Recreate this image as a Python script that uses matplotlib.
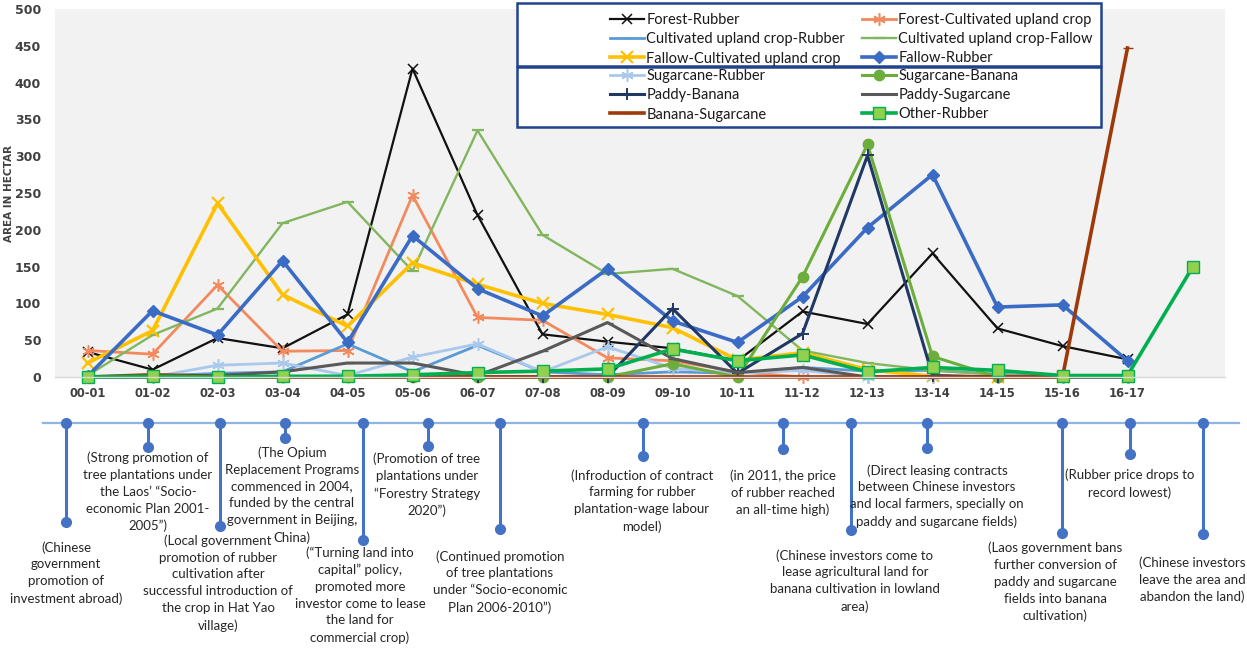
import numpy as np
import matplotlib
matplotlib.use('Agg')
import matplotlib.pyplot as plt
from matplotlib.patches import Rectangle

nan = np.nan

# ---------------- data ----------------
periods = ['00-01', '01-02', '02-03', '03-04', '04-05', '05-06', '06-07', '07-08', '08-09',
           '09-10', '10-11', '11-12', '12-13', '13-14', '14-15', '15-16', '16-17', '']

forest_rubber = [34, 10, 53, 39, 85, 419, 220, 58, 48, 39, 22, 89, 72, 168, 66, 42, 24, nan]
forest_cultivated = [36, 31, 125, 35, 36, 247, 81, 77, 26, 22, 7, 0, 0, 0, 0, 0, 0, nan]
cultivated_rubber = [0, 1, 5, 7, 45, 7, 43, 7, 3, 7, 5, 13, 8, 9, 4, 0, 0, nan]
cultivated_fallow = [2, 57, 93, 209, 238, 144, 335, 193, 140, 147, 110, 36, 19, 9, 3, 0, 0, nan]
fallow_cultivated = [19, 63, 236, 112, 69, 155, 126, 100, 85, 67, 23, 33, 10, 1, 0, 0, 0, nan]
fallow_rubber = [1, 90, 57, 158, 47, 192, 120, 83, 147, 76, 47, 109, 203, 275, 95, 98, 22, nan]
sugarcane_rubber = [0, 0, 16, 19, 2, 27, 45, 7, 41, 12, 5, 9, 0, 0, 0, 0, 0, nan]
sugarcane_banana = [0, 0, 0, 0, 0, 0, 0, 0, 0, 18, 0, 136, 316, 28, 0, 0, 0, nan]
paddy_banana = [0, 0, 0, 0, 0, 0, 0, 0, 0, 93, 5, 59, 301, 2, 0, 0, 0, nan]
paddy_sugarcane = [0, 0, 2, 7, 19, 19, 2, 35, 74, 25, 6, 13, 0, 0, 0, 0, 0, nan]
banana_sugarcane = [0, 3, 1, 0, 0, 0, 0, 0, 0, 0, 0, 0, 0, 0, 0, 0, 447, nan]
other_rubber = [0, 1, 0, 1, 1, 3, 6, 8, 11, 38, 22, 30, 7, 13, 9, 2, 2, 149]

series_names = ['Forest-Rubber', 'Forest-Cultivated upland crop', 'Cultivated upland crop-Rubber',
                'Cultivated upland crop-Fallow', 'Fallow-Cultivated upland crop', 'Fallow-Rubber',
                'Sugarcane-Rubber', 'Sugarcane-Banana', 'Paddy-Banana', 'Paddy-Sugarcane',
                'Banana-Sugarcane', 'Other-Rubber']
series_values = [forest_rubber, forest_cultivated, cultivated_rubber, cultivated_fallow,
                 fallow_cultivated, fallow_rubber, sugarcane_rubber, sugarcane_banana,
                 paddy_banana, paddy_sugarcane, banana_sugarcane, other_rubber]

events = [
    "(Chinese\ngovernment\npromotion of\ninvestment abroad)",
    "(Strong promotion of\ntree plantations under\nthe Laos\u2019 \u201cSocio-\neconomic Plan 2001-\n2005\u201d)",
    "(Local government\npromotion of rubber\ncultivation after\nsuccessful introduction of\nthe crop in Hat Yao\nvillage)",
    "(The Opium\nReplacement Programs\ncommenced in 2004,\nfunded by the central\ngovernment in Beijing,\nChina)",
    "(\u201cTurning land into\ncapital\u201d policy,\npromoted more\ninvestor come to lease\nthe land for\ncommercial crop)",
    "(Promotion of tree\nplantations under\n\u201cForestry Strategy\n2020\u201d)",
    "(Continued promotion\nof tree plantations\nunder \u201cSocio-economic\nPlan 2006-2010\u201d)",
    "(Infroduction of contract\nfarming for rubber\nplantation-wage labour\nmodel)",
    "(in 2011, the price\nof rubber reached\nan all-time high)",
    "(Chinese investors come to\nlease agricultural land for\nbanana cultivation in lowland\narea)",
    "(Direct leasing contracts\nbetween Chinese investors\nand local farmers, specially on\npaddy and sugarcane fields)",
    "(Laos government bans\nfurther conversion of\npaddy and sugarcane\nfields into banana\ncultivation)",
    "(Rubber price drops to\nrecord lowest)",
    "(Chinese investors\nleave the area and\nabandon the land)",
]

# ---------------- styles / layout ----------------
W, H = 1247, 648
AST = (6, 2, 0)
styles = [
    dict(color='#111111', lw=1.6, marker='x', ms=7, mew=1.1),
    dict(color='#F28A5E', lw=2.0, marker=AST, ms=9, mew=1.1),
    dict(color='#5B9BD5', lw=2.0, marker='_', ms=7, mew=1.0),
    dict(color='#82B65E', lw=1.7, marker='_', ms=9, mew=1.6),
    dict(color='#FFC000', lw=2.6, marker='x', ms=9, mew=1.6),
    dict(color='#3A6CC6', lw=2.6, marker='D', ms=6),
    dict(color='#A9C8EC', lw=2.0, marker=AST, ms=9, mew=1.1),
    dict(color='#6CAD3C', lw=2.2, marker='o', ms=7.5),
    dict(color='#1F3864', lw=2.2, marker='+', ms=9, mew=1.4),
    dict(color='#595959', lw=2.2, marker='_', ms=7, mew=1.0),
    dict(color='#9E3A0A', lw=2.6, marker='_', ms=7, mew=1.0),
    dict(color='#00B050', lw=2.6, marker='s', ms=8, mfc='#92D050', mec='#00B050', mew=1.0),
]

fig = plt.figure(figsize=(W / 100, H / 100), dpi=100)
fig.patch.set_facecolor('white')

ax = fig.add_axes([55 / W, 1 - 377 / H, (1225 - 55) / W, (377 - 9) / H])
ax.set_facecolor('#F2F2F2')
x = np.arange(len(periods))
lines = []
for name, vals, st in zip(series_names, series_values, styles):
    ln, = ax.plot(x, vals, label=name, clip_on=False, **st)
    lines.append(ln)

ax.set_xlim(-0.5, len(periods) - 0.5)
ax.set_ylim(0, 500)
ax.set_yticks(np.arange(0, 501, 50))
ax.set_xticks(x)
ax.set_xticklabels(periods, fontsize=8.3, fontweight='bold', color='#404040', family='DejaVu Sans')
for lab in ax.get_yticklabels():
    lab.set_fontsize(9)
    lab.set_fontweight('bold')
    lab.set_color('#404040')
ax.tick_params(axis='both', length=0)
ax.tick_params(axis='x', pad=7)
ax.tick_params(axis='y', pad=10)
for s in ['top', 'right', 'left']:
    ax.spines[s].set_visible(False)
ax.spines['bottom'].set_color('#D9D9D9')
ax.spines['bottom'].set_linewidth(1.0)

# ---------------- overlay (legend boxes + timeline) ----------------
ov = fig.add_axes([0, 0, 1, 1], zorder=3)
ov.set_xlim(0, W)
ov.set_ylim(H, 0)
ov.axis('off')
ov.patch.set_alpha(0)

ov.text(9, 193, 'AREA IN HECTAR', rotation=90, ha='center', va='center',
        fontsize=7.5, fontweight='bold', color='#404040')

box_col = '#22428F'
ov.add_patch(Rectangle((517, 3), 584, 63, fc='white', ec=box_col, lw=1.8, zorder=1))
ov.add_patch(Rectangle((517, 67), 584, 60, fc='white', ec=box_col, lw=1.8, zorder=1))

leg_groups = [([0, 2, 4], 610, 13), ([1, 3, 5], 862, 13), ([6, 8, 10], 610, 69), ([7, 9, 11], 862, 69)]
legs = []
for idx, lx, ly in leg_groups:
    leg = ov.legend([lines[i] for i in idx], [series_names[i] for i in idx],
                    loc='upper left', bbox_to_anchor=(lx, ly), bbox_transform=ov.transData,
                    frameon=False, borderpad=0, borderaxespad=0, handlelength=2.3,
                    handletextpad=0.2, labelspacing=0.36, numpoints=1,
                    prop=dict(family='Lato', size=10.5))
    for t in leg.get_texts():
        t.set_color('#1a1a1a')
    legs.append(leg)
for leg in legs[:-1]:
    ov.add_artist(leg)

# timeline
tl_y = 423
line_col = '#8EB4E3'
stem_col = '#4472C4'
ov.plot([43, 1239], [tl_y, tl_y], color=line_col, lw=1.6, zorder=2)
stem_x = [66, 148, 220, 285, 363, 428, 500, 643, 783, 851, 927, 1062, 1130, 1203]
stem_end = [522, 447, 526, 438, 540, 446, 529, 456, 449, 530, 448, 533, 454, 534]
text_xy = [(66, 573), (148, 492), (218, 583), (292, 495), (360, 595), (427, 485), (500, 582),
           (642, 501), (783, 493), (855, 581), (937, 496), (1055, 582), (1130, 484), (1192, 580)]
for sx, se, (tx, ty), txt in zip(stem_x, stem_end, text_xy, events):
    ov.plot([sx, sx], [tl_y, se], color=stem_col, lw=2.2, zorder=3, solid_capstyle='butt')
    ov.plot([sx, sx], [tl_y, se], ls='none', marker='o', ms=7, color=stem_col, zorder=4)
    ov.text(tx, ty, txt, ha='center', va='center', multialignment='center',
            fontsize=9.5, family='Lato', color='#262626', linespacing=1.48, zorder=5)

fig.savefig('out.png', dpi=100, facecolor='white')
